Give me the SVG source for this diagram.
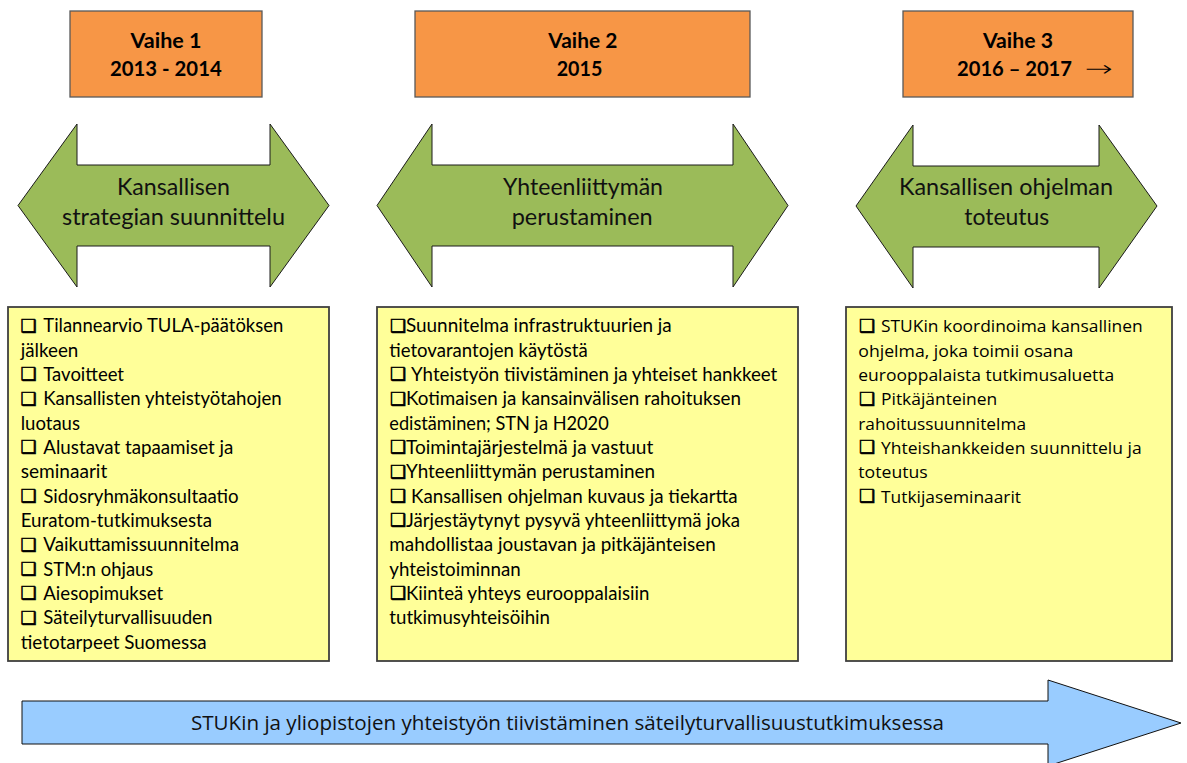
<svg xmlns="http://www.w3.org/2000/svg" width="1187" height="763" viewBox="0 0 1187 763">
<style>
.phase{fill:#F79646;stroke:#595959;stroke-width:1.3}
.hd{font-family:Lato,"Open Sans","Liberation Sans",sans-serif;font-weight:bold;font-size:21.5px;fill:#000}
.arr{fill:#9BBB59;stroke:#1a1a1a;stroke-width:1}
.al{font-family:Lato,"Open Sans","Liberation Sans",sans-serif;font-size:23.5px;fill:#111;text-anchor:middle}
.box{fill:#FFFF99;stroke:#3f3f3f;stroke-width:1.8}
.li{font-family:Lato,"Open Sans","Liberation Sans",sans-serif;font-size:19.5px;fill:#000}
.li3{font-family:"Open Sans","Noto Sans","Liberation Sans",sans-serif;font-size:17px;fill:#000}
.bul{font-family:"DejaVu Sans",sans-serif;font-size:18px;fill:#000;stroke:#000;stroke-width:0.6}
.tl{fill:#99CCFF;stroke:#111;stroke-width:1}
.tlt{font-family:"Open Sans","Noto Sans","Liberation Sans",sans-serif;font-size:20px;fill:#111}
</style>

<g id="phase1">
<rect class="phase" x="70" y="11" width="192" height="86"/>
<text class="hd" x="130.5" y="48.3" textLength="71" lengthAdjust="spacingAndGlyphs">Vaihe 1</text>
<text class="hd" x="110" y="76" textLength="111.7" lengthAdjust="spacingAndGlyphs">2013 - 2014</text>
</g>
<g id="phase2">
<rect class="phase" x="415" y="11" width="335" height="86"/>
<text class="hd" x="548.3" y="48.3" textLength="69" lengthAdjust="spacingAndGlyphs">Vaihe 2</text>
<text class="hd" x="556.7" y="76" textLength="45.6" lengthAdjust="spacingAndGlyphs">2015</text>
</g>
<g id="phase3">
<rect class="phase" x="903" y="11" width="230" height="86"/>
<text class="hd" x="983" y="48.3" textLength="70" lengthAdjust="spacingAndGlyphs">Vaihe 3</text>
<text class="hd" x="957" y="76" textLength="115" lengthAdjust="spacingAndGlyphs">2016 – 2017</text>
<text x="1085" y="76" font-family="'DejaVu Sans',sans-serif" font-size="22" font-weight="300" textLength="28" lengthAdjust="spacingAndGlyphs" fill="#000">→</text>
</g>

<g id="arrow1">
<path class="arr" d="M18,205.5 L77,124 L77,165 L270,165 L270,124 L329,205.5 L270,287 L270,246 L77,246 L77,287 Z"/>
<text class="al" x="173.5" y="195" textLength="113" lengthAdjust="spacingAndGlyphs">Kansallisen</text>
<text class="al" x="173.5" y="224.5" textLength="223" lengthAdjust="spacingAndGlyphs">strategian suunnittelu</text>
</g>
<g id="arrow2">
<path class="arr" d="M377,205.5 L432,124 L432,165 L733,165 L733,124 L788,205.5 L733,287 L733,246 L432,246 L432,287 Z"/>
<text class="al" x="583" y="195" textLength="160" lengthAdjust="spacingAndGlyphs">Yhteenliittymän</text>
<text class="al" x="582.2" y="224.5" textLength="141" lengthAdjust="spacingAndGlyphs">perustaminen</text>
</g>
<g id="arrow3">
<path class="arr" d="M856,206 L913,125 L913,166 L1099,166 L1099,125 L1157,206 L1099,288 L1099,247 L913,247 L913,288 Z"/>
<text class="al" x="1006" y="195" textLength="214" lengthAdjust="spacingAndGlyphs">Kansallisen ohjelman</text>
<text class="al" x="1006.8" y="224.5" textLength="85" lengthAdjust="spacingAndGlyphs">toteutus</text>
</g>

<g id="list1">
<rect class="box" x="8" y="307" width="321" height="354"/>
<text class="bul" x="20.5" y="331.5">❑</text>
<text class="li" x="43.3" y="332.3" textLength="240" lengthAdjust="spacingAndGlyphs">Tilannearvio TULA-päätöksen</text>
<text class="li" x="20.7" y="356.7" textLength="57.6" lengthAdjust="spacingAndGlyphs">jälkeen</text>
<text class="bul" x="20.5" y="380.2">❑</text>
<text class="li" x="43.3" y="381" textLength="80.7" lengthAdjust="spacingAndGlyphs">Tavoitteet</text>
<text class="bul" x="20.5" y="404.5">❑</text>
<text class="li" x="43.3" y="405.3" textLength="238.4" lengthAdjust="spacingAndGlyphs">Kansallisten yhteistyötahojen</text>
<text class="li" x="20.7" y="429.7" textLength="59.3" lengthAdjust="spacingAndGlyphs">luotaus</text>
<text class="bul" x="20.5" y="453.2">❑</text>
<text class="li" x="43.3" y="454" textLength="190" lengthAdjust="spacingAndGlyphs">Alustavat tapaamiset ja</text>
<text class="li" x="20.7" y="478.3" textLength="86.6" lengthAdjust="spacingAndGlyphs">seminaarit</text>
<text class="bul" x="20.5" y="501.9">❑</text>
<text class="li" x="43.3" y="502.7" textLength="195.4" lengthAdjust="spacingAndGlyphs">Sidosryhmäkonsultaatio</text>
<text class="li" x="20.7" y="527" textLength="191.3" lengthAdjust="spacingAndGlyphs">Euratom-tutkimuksesta</text>
<text class="bul" x="20.5" y="550.5">❑</text>
<text class="li" x="43.3" y="551.3" textLength="195.7" lengthAdjust="spacingAndGlyphs">Vaikuttamissuunnitelma</text>
<text class="bul" x="20.5" y="574.9">❑</text>
<text class="li" x="43.3" y="575.7" textLength="110" lengthAdjust="spacingAndGlyphs">STM:n ohjaus</text>
<text class="bul" x="20.5" y="599.2">❑</text>
<text class="li" x="43.3" y="600" textLength="120" lengthAdjust="spacingAndGlyphs">Aiesopimukset</text>
<text class="bul" x="20.5" y="623.5">❑</text>
<text class="li" x="43.3" y="624.3" textLength="169" lengthAdjust="spacingAndGlyphs">Säteilyturvallisuuden</text>
<text class="li" x="20.7" y="648.7" textLength="186" lengthAdjust="spacingAndGlyphs">tietotarpeet Suomessa</text>
</g>

<g id="list2">
<rect class="box" x="377" y="307" width="421" height="354"/>
<text class="bul" x="390" y="331.5">❑</text>
<text class="li" x="406" y="332.3" textLength="265.7" lengthAdjust="spacingAndGlyphs">Suunnitelma infrastruktuurien ja</text>
<text class="li" x="389.3" y="356.7" textLength="198.4" lengthAdjust="spacingAndGlyphs">tietovarantojen käytöstä</text>
<text class="bul" x="390" y="380.2">❑</text>
<text class="li" x="411" y="381" textLength="366.3" lengthAdjust="spacingAndGlyphs">Yhteistyön tiivistäminen ja yhteiset hankkeet</text>
<text class="bul" x="390" y="404.5">❑</text>
<text class="li" x="406" y="405.3" textLength="335" lengthAdjust="spacingAndGlyphs">Kotimaisen ja kansainvälisen rahoituksen</text>
<text class="li" x="389.3" y="429.7" textLength="219.4" lengthAdjust="spacingAndGlyphs">edistäminen; STN ja H2020</text>
<text class="bul" x="390" y="453.2">❑</text>
<text class="li" x="406" y="454" textLength="247.3" lengthAdjust="spacingAndGlyphs">Toimintajärjestelmä ja vastuut</text>
<text class="bul" x="390" y="477.5">❑</text>
<text class="li" x="406" y="478.3" textLength="249" lengthAdjust="spacingAndGlyphs">Yhteenliittymän perustaminen</text>
<text class="bul" x="390" y="501.9">❑</text>
<text class="li" x="411" y="502.7" textLength="326.7" lengthAdjust="spacingAndGlyphs">Kansallisen ohjelman kuvaus ja tiekartta</text>
<text class="bul" x="390" y="526.2">❑</text>
<text class="li" x="406" y="527" textLength="334" lengthAdjust="spacingAndGlyphs">Järjestäytynyt pysyvä yhteenliittymä joka</text>
<text class="li" x="389.3" y="551.3" textLength="326.4" lengthAdjust="spacingAndGlyphs">mahdollistaa joustavan ja pitkäjänteisen</text>
<text class="li" x="389.3" y="575.7" textLength="131.4" lengthAdjust="spacingAndGlyphs">yhteistoiminnan</text>
<text class="bul" x="390" y="599.2">❑</text>
<text class="li" x="406" y="600" textLength="243.3" lengthAdjust="spacingAndGlyphs">Kiinteä yhteys eurooppalaisiin</text>
<text class="li" x="389.3" y="624.3" textLength="160.7" lengthAdjust="spacingAndGlyphs">tutkimusyhteisöihin</text>
</g>

<g id="list3">
<rect class="box" x="846" y="307" width="326" height="354"/>
<text class="bul" x="859" y="331.5">❑</text>
<text class="li3" x="881" y="332.3" textLength="261.7" lengthAdjust="spacingAndGlyphs">STUKin koordinoima kansallinen</text>
<text class="li3" x="858.3" y="356.7" textLength="215" lengthAdjust="spacingAndGlyphs">ohjelma, joka toimii osana</text>
<text class="li3" x="858.3" y="381" textLength="256" lengthAdjust="spacingAndGlyphs">eurooppalaista tutkimusaluetta</text>
<text class="bul" x="859" y="404.5">❑</text>
<text class="li3" x="881" y="405.3" textLength="116.3" lengthAdjust="spacingAndGlyphs">Pitkäjänteinen</text>
<text class="li3" x="858.3" y="429.7" textLength="167.7" lengthAdjust="spacingAndGlyphs">rahoitussuunnitelma</text>
<text class="bul" x="859" y="453.2">❑</text>
<text class="li3" x="881" y="454" textLength="260.7" lengthAdjust="spacingAndGlyphs">Yhteishankkeiden suunnittelu ja</text>
<text class="li3" x="858.3" y="478.3" textLength="69.4" lengthAdjust="spacingAndGlyphs">toteutus</text>
<text class="bul" x="859" y="501.9">❑</text>
<text class="li3" x="881" y="502.7" textLength="140" lengthAdjust="spacingAndGlyphs">Tutkijaseminaarit</text>
</g>

<g id="timeline">
<path class="tl" d="M22,701 L1048,701 L1048,680 L1181,723 L1048,766 L1048,744 L22,744 Z"/>
<text class="tlt" x="191" y="729.7" textLength="753" lengthAdjust="spacingAndGlyphs">STUKin ja yliopistojen yhteistyön tiivistäminen säteilyturvallisuustutkimuksessa</text>
</g>

<g id="connectors"/>
</svg>
